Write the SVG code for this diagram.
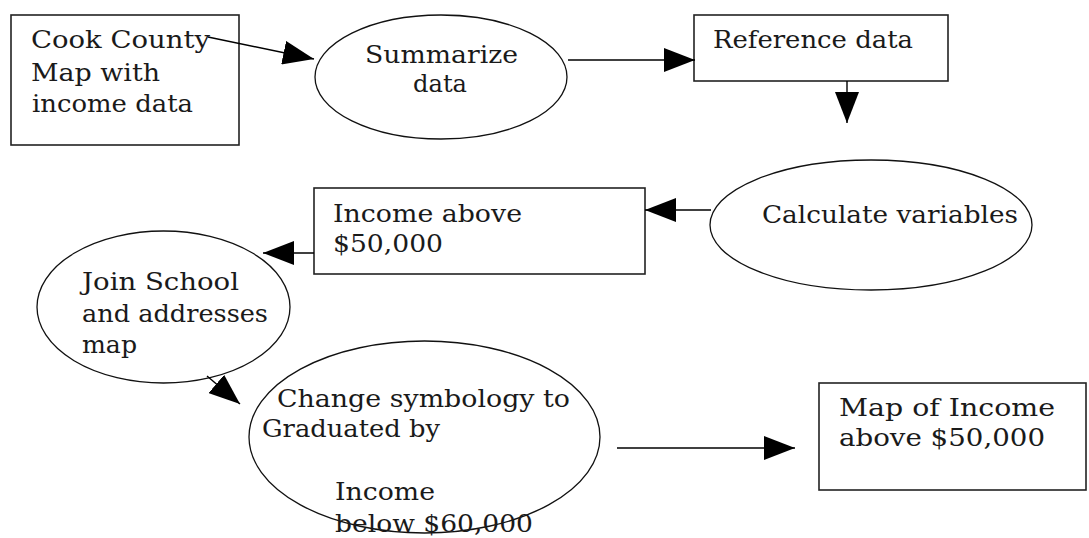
<svg xmlns="http://www.w3.org/2000/svg" width="1089" height="538" viewBox="0 0 1089 538">
  <style>
    .box { fill: #fff; stroke: #222; stroke-width: 1.6; }
    .ell { fill: none; stroke: #111; stroke-width: 1.3; }
    .lbl { font-family: "DejaVu Serif", "Liberation Serif", serif; font-size: 25px; fill: #1a1a1a; }
    .con { fill: none; stroke: #000; stroke-width: 1.4; marker-end: url(#ah); }
  </style>
  <defs>
    <marker id="ah" markerUnits="userSpaceOnUse" markerWidth="31" markerHeight="24" refX="31" refY="12" orient="auto">
      <path d="M0,0 L31,12 L0,24 Z" fill="#000"/>
    </marker>
  </defs>
  <rect width="1089" height="538" fill="#fff"/>

  <g id="cook">
    <rect class="box" x="11" y="15" width="228" height="130"/>
    <text class="lbl" x="31" y="48" textLength="179" lengthAdjust="spacingAndGlyphs">Cook County</text>
    <text class="lbl" x="31" y="81" textLength="129" lengthAdjust="spacingAndGlyphs">Map with</text>
    <text class="lbl" x="32" y="112" textLength="161" lengthAdjust="spacingAndGlyphs">income data</text>
  </g>

  <g id="summarize">
    <ellipse class="ell" cx="441" cy="77" rx="126" ry="62"/>
    <text class="lbl" x="365" y="63" textLength="153" lengthAdjust="spacingAndGlyphs">Summarize</text>
    <text class="lbl" x="413" y="92" textLength="54" lengthAdjust="spacingAndGlyphs">data</text>
  </g>

  <g id="reference">
    <rect class="box" x="694" y="15" width="254" height="66"/>
    <text class="lbl" x="713" y="48" textLength="200" lengthAdjust="spacingAndGlyphs">Reference data</text>
  </g>

  <g id="calculate">
    <ellipse class="ell" cx="871" cy="225" rx="161" ry="65"/>
    <text class="lbl" x="762" y="223" textLength="256" lengthAdjust="spacingAndGlyphs">Calculate variables</text>
  </g>

  <g id="income">
    <rect class="box" x="314" y="188" width="331" height="86"/>
    <text class="lbl" x="333" y="222" textLength="189" lengthAdjust="spacingAndGlyphs">Income above</text>
    <text class="lbl" x="333" y="252" textLength="110" lengthAdjust="spacingAndGlyphs">$50,000</text>
  </g>

  <g id="join">
    <ellipse class="ell" cx="163.5" cy="307" rx="126.5" ry="76"/>
    <text class="lbl" x="82" y="290" textLength="157" lengthAdjust="spacingAndGlyphs">Join School</text>
    <text class="lbl" x="82" y="322" textLength="186" lengthAdjust="spacingAndGlyphs">and addresses</text>
    <text class="lbl" x="82" y="353" textLength="55" lengthAdjust="spacingAndGlyphs">map</text>
  </g>

  <g id="change">
    <ellipse class="ell" cx="424.5" cy="437" rx="175.5" ry="96"/>
    <text class="lbl" x="277" y="407" textLength="293" lengthAdjust="spacingAndGlyphs">Change symbology to</text>
    <text class="lbl" x="262" y="437" textLength="178" lengthAdjust="spacingAndGlyphs">Graduated by</text>
    <text class="lbl" x="335" y="500" textLength="100" lengthAdjust="spacingAndGlyphs">Income</text>
    <text class="lbl" x="335" y="532" textLength="198" lengthAdjust="spacingAndGlyphs">below $60,000</text>
  </g>

  <g id="mapout">
    <rect class="box" x="819" y="383" width="267" height="107"/>
    <text class="lbl" x="839" y="416" textLength="216" lengthAdjust="spacingAndGlyphs">Map of Income</text>
    <text class="lbl" x="839" y="446" textLength="206" lengthAdjust="spacingAndGlyphs">above $50,000</text>
  </g>

  <g id="connectors">
    <line class="con" x1="208" y1="37" x2="314" y2="59"/>
    <line class="con" x1="568" y1="60" x2="695" y2="60"/>
    <line class="con" x1="847" y1="81" x2="847" y2="123"/>
    <line class="con" x1="711" y1="210" x2="645" y2="210"/>
    <line class="con" x1="314" y1="253" x2="263" y2="253"/>
    <line class="con" x1="207" y1="376" x2="240" y2="404"/>
    <line class="con" x1="617" y1="448" x2="795" y2="448"/>
  </g>
</svg>
